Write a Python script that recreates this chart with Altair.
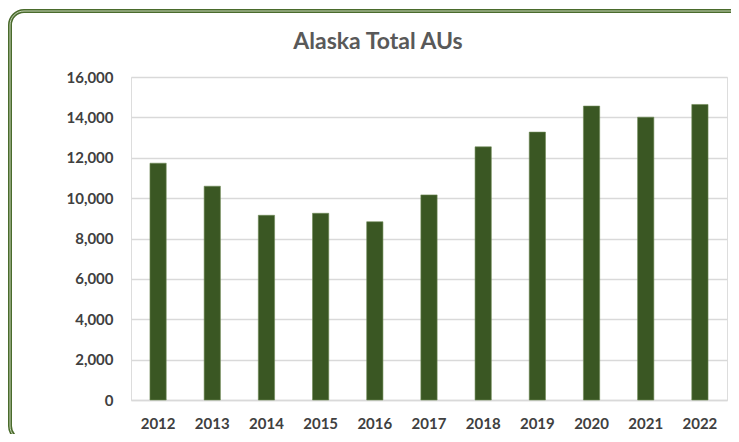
import altair as alt
import pandas as pd

years = ["2012", "2013", "2014", "2015", "2016", "2017", "2018", "2019", "2020", "2021", "2022"]
totals = [11730, 10590, 9150, 9250, 8830, 10160, 12540, 13270, 14560, 14010, 14640]
y_ticks = [0, 2000, 4000, 6000, 8000, 10000, 12000, 14000, 16000]

df = pd.DataFrame({"year": years, "total": totals})

W, H = 596, 323
FONT = "Lato"

base = alt.Chart(df)

bars = base.mark_bar(color="#3a5723", stroke="#6f8a55", strokeWidth=0.6).encode(
    x=alt.X(
        "year:N",
        sort=years,
        title=None,
        scale=alt.Scale(paddingInner=0.7, paddingOuter=0.35),
        axis=alt.Axis(
            labelAngle=0,
            labelFont=FONT,
            labelFontSize=15,
            labelFontWeight="bold",
            labelColor="#404040",
            labelPadding=16,
            ticks=False,
            domain=True,
            domainColor="#d9d9d9",
            domainWidth=1.5,
        ),
    ),
    y=alt.Y(
        "total:Q",
        title=None,
        scale=alt.Scale(domain=[0, 16000], nice=False),
        axis=alt.Axis(
            values=y_ticks,
            format=",d",
            labelFont=FONT,
            labelFontSize=15,
            labelFontWeight="bold",
            labelColor="#404040",
            labelPadding=18,
            ticks=False,
            domain=False,
            gridColor="#d9d9d9",
            gridWidth=1.5,
        ),
    ),
)

# Decorative rounded frame (outer dark green with inner light line gives a double-line look)
frame_outer = alt.Chart(pd.DataFrame({"k": [0]})).mark_rect(
    fill=None, stroke="#4a6b2c", strokeWidth=4, cornerRadius=14
).encode(
    x=alt.value(-121), x2=alt.value(614), y=alt.value(-66), y2=alt.value(363)
)
frame_inner = alt.Chart(pd.DataFrame({"k": [0]})).mark_rect(
    fill=None, stroke="#c9d8bb", strokeWidth=1, cornerRadius=14
).encode(
    x=alt.value(-121), x2=alt.value(614), y=alt.value(-66), y2=alt.value(363)
)

title_mark = alt.Chart(pd.DataFrame({"t": ["Alaska Total AUs"]})).mark_text(
    font=FONT, fontSize=23, fontWeight="bold", color="#595959", align="center", baseline="middle"
).encode(
    text="t:N", x=alt.value(247), y=alt.value(-35)
)

chart = alt.layer(bars, frame_outer, frame_inner, title_mark).properties(
    width=W,
    height=H,
    autosize=alt.AutoSizeParams(type="none"),
    padding={"left": 123, "top": 69, "right": 4, "bottom": 34},
).configure_view(stroke=None).configure(background="white")

chart.save("out.html", embed_options={"renderer": "svg", "actions": False})
